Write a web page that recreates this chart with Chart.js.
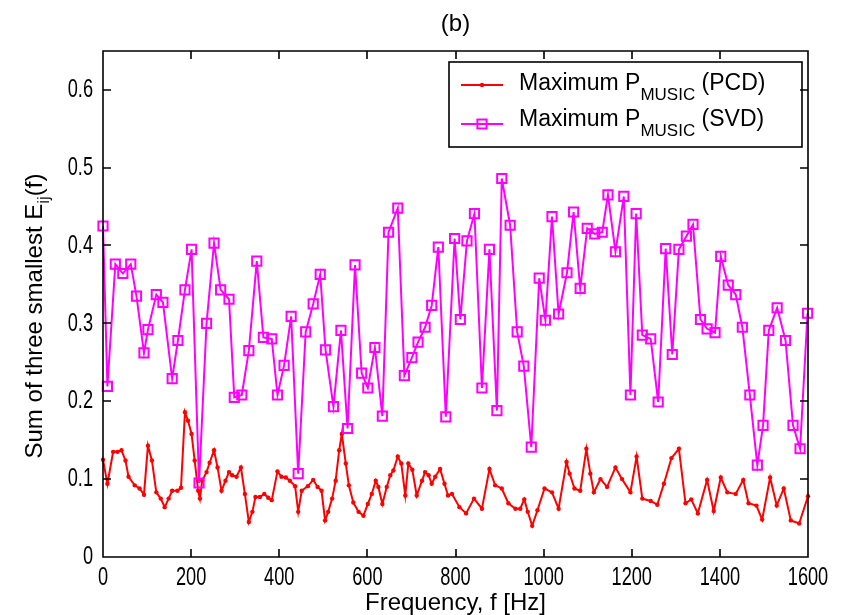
<!DOCTYPE html>
<html>
<head>
<meta charset="utf-8">
<script src="https://cdn.jsdelivr.net/npm/chart.js@4.4.1/dist/chart.umd.min.js"></script>
<style>
  html, body { margin: 0; padding: 0; background: #fff; }
  #chart { display: block; }
</style>
</head>
<body>
<canvas id="chart" width="844" height="615"></canvas>
<script>
// PCD curve (red, dot markers)
const pcdFreq = [0, 10, 23, 33, 42, 51, 58, 72, 83, 93, 102, 111, 121, 131, 140, 149, 157, 169, 177, 186,
  193, 201, 208, 216, 220, 225, 235, 242, 252, 260, 269, 278, 286, 293, 303, 313, 322, 331, 339, 346,
  356, 366, 375, 383, 396, 405, 415, 424, 436, 443, 451, 465, 477, 487, 496, 504, 511, 520, 528, 536,
  542, 551, 558, 568, 580, 591, 601, 610, 619, 625, 634, 644, 652, 659, 669, 677, 686, 693, 702, 712,
  724, 731, 739, 746, 754, 765, 775, 783, 792, 809, 824, 842, 860, 877, 890, 905, 920, 936, 947, 956,
  964, 974, 986, 1002, 1019, 1034, 1052, 1059, 1070, 1083, 1097, 1106, 1114, 1129, 1144, 1163, 1178, 1197, 1211, 1224,
  1243, 1258, 1273, 1290, 1307, 1322, 1335, 1350, 1371, 1386, 1402, 1417, 1436, 1453, 1465, 1483, 1496, 1514, 1529, 1545,
  1561, 1580, 1600];
const pcdValues = [0.125, 0.094, 0.135, 0.135, 0.137, 0.124, 0.103, 0.092, 0.088, 0.080, 0.143, 0.124, 0.083, 0.075, 0.064, 0.075, 0.085, 0.085, 0.089, 0.186,
  0.175, 0.158, 0.124, 0.085, 0.075, 0.098, 0.109, 0.121, 0.137, 0.115, 0.085, 0.098, 0.109, 0.105, 0.103, 0.115, 0.081, 0.045, 0.058, 0.077,
  0.077, 0.081, 0.076, 0.073, 0.110, 0.103, 0.102, 0.098, 0.091, 0.058, 0.085, 0.091, 0.099, 0.090, 0.085, 0.047, 0.058, 0.075, 0.098, 0.137,
  0.158, 0.120, 0.092, 0.070, 0.058, 0.053, 0.068, 0.081, 0.098, 0.090, 0.068, 0.090, 0.105, 0.111, 0.129, 0.120, 0.079, 0.120, 0.112, 0.079,
  0.098, 0.109, 0.105, 0.094, 0.103, 0.113, 0.094, 0.079, 0.081, 0.064, 0.056, 0.075, 0.062, 0.113, 0.092, 0.088, 0.069, 0.062, 0.062, 0.074,
  0.058, 0.040, 0.060, 0.088, 0.083, 0.062, 0.122, 0.107, 0.088, 0.085, 0.139, 0.107, 0.083, 0.100, 0.090, 0.115, 0.100, 0.083, 0.129, 0.075,
  0.072, 0.067, 0.094, 0.127, 0.139, 0.069, 0.074, 0.056, 0.099, 0.059, 0.102, 0.083, 0.081, 0.099, 0.069, 0.066, 0.048, 0.102, 0.066, 0.088,
  0.047, 0.043, 0.078];

// SVD curve (magenta, open squares)
const svdFreq = [0, 10, 28, 45, 63, 76, 93, 102, 121, 136, 157, 170, 186, 201, 218, 235, 252, 267, 286, 298,
  315, 331, 349, 364, 383, 396, 411, 427, 443, 460, 477, 493, 505, 523, 540, 555, 572, 587, 601, 617,
  634, 648, 669, 684, 701, 715, 731, 746, 761, 778, 798, 811, 826, 843, 860, 877, 894, 905, 924, 940,
  955, 972, 990, 1004, 1019, 1034, 1053, 1068, 1083, 1099, 1116, 1133, 1146, 1163, 1182, 1197, 1210, 1224, 1243, 1260,
  1277, 1292, 1307, 1324, 1339, 1356, 1371, 1389, 1402, 1419, 1436, 1451, 1468, 1485, 1498, 1511, 1530, 1549, 1566, 1582,
  1599];
const svdValues = [0.425, 0.219, 0.376, 0.364, 0.376, 0.335, 0.262, 0.292, 0.337, 0.327, 0.229, 0.278, 0.343, 0.395, 0.095, 0.300, 0.403, 0.343, 0.331, 0.205,
  0.208, 0.265, 0.380, 0.282, 0.280, 0.208, 0.246, 0.309, 0.107, 0.289, 0.325, 0.363, 0.266, 0.193, 0.291, 0.165, 0.375, 0.236, 0.217, 0.269,
  0.181, 0.417, 0.448, 0.233, 0.256, 0.276, 0.295, 0.323, 0.398, 0.180, 0.409, 0.305, 0.406, 0.441, 0.217, 0.395, 0.188, 0.486, 0.426, 0.289,
  0.245, 0.141, 0.358, 0.304, 0.437, 0.312, 0.365, 0.443, 0.345, 0.422, 0.415, 0.417, 0.465, 0.392, 0.463, 0.208, 0.441, 0.285, 0.280, 0.199,
  0.396, 0.260, 0.395, 0.412, 0.427, 0.305, 0.293, 0.288, 0.386, 0.349, 0.337, 0.295, 0.208, 0.118, 0.169, 0.291, 0.320, 0.278, 0.169, 0.139,
  0.313];

const xTickStep = 200;
const yTickStep = 0.1;

const SANS = "'Liberation Sans', Arial, Helvetica, sans-serif";
const TICK_LEN = 8;
// tick numbers are tall and narrow, so they get squeezed horizontally
const TICK_FONT = `26px ${SANS}`;
const TICK_SQUEEZE = 0.7;

function toPoints(xs, ys) {
  return xs.map((f, i) => ({ x: f, y: ys[i] }));
}

// draws a run of text pieces, each with its own font and vertical shift
function drawRuns(ctx, x, y, runs) {
  let cx = x;
  runs.forEach(r => {
    ctx.font = r.font;
    ctx.fillText(r.text, cx, y + (r.dy || 0));
    cx += ctx.measureText(r.text).width;
  });
  return cx;
}
function runsWidth(ctx, runs) {
  let w = 0;
  runs.forEach(r => { ctx.font = r.font; w += ctx.measureText(r.text).width; });
  return w;
}

function squeezedLabel(ctx, text, x, y, align) {
  ctx.save();
  ctx.translate(x, y);
  ctx.scale(TICK_SQUEEZE, 1);
  ctx.textAlign = align;
  ctx.textBaseline = 'middle';
  ctx.font = TICK_FONT;
  ctx.fillText(text, 0, 0);
  ctx.restore();
}

const boxAndText = {
  id: 'boxAndText',
  afterDraw(chart) {
    const ctx = chart.ctx;
    const x = chart.scales.x, y = chart.scales.y;
    // box edges taken from the axis ranges
    const L = Math.round(x.getPixelForValue(x.min));
    const R = Math.round(x.getPixelForValue(x.max));
    const B = Math.round(y.getPixelForValue(y.min));
    const T = Math.round(y.getPixelForValue(y.max));
    ctx.save();
    ctx.strokeStyle = '#000000';
    ctx.fillStyle = '#000000';
    ctx.lineWidth = 1.6;

    // axes box with inward ticks on all four sides
    ctx.beginPath();
    ctx.rect(L, T, R - L, B - T);
    x.ticks.forEach(t => {
      const px = Math.round(x.getPixelForValue(t.value));
      ctx.moveTo(px, B); ctx.lineTo(px, B - TICK_LEN);
      ctx.moveTo(px, T); ctx.lineTo(px, T + TICK_LEN);
    });
    y.ticks.forEach(t => {
      const py = Math.round(y.getPixelForValue(t.value));
      ctx.moveTo(L, py); ctx.lineTo(L + TICK_LEN, py);
      ctx.moveTo(R, py); ctx.lineTo(R - TICK_LEN, py);
    });
    ctx.stroke();

    // tick labels
    x.ticks.forEach(t => squeezedLabel(ctx, t.label, x.getPixelForValue(t.value), B + 21, 'center'));
    y.ticks.forEach(t => squeezedLabel(ctx, t.label, L - 10, y.getPixelForValue(t.value), 'right'));

    ctx.textBaseline = 'alphabetic';
    ctx.textAlign = 'left';

    // y axis title with subscript
    const yRuns = [
      { text: 'Sum of three smallest E', font: `24px ${SANS}` },
      { text: 'ij', font: `17px ${SANS}`, dy: 7 },
      { text: '(f)', font: `24px ${SANS}` }
    ];
    ctx.save();
    ctx.translate(42, 316);
    ctx.rotate(-Math.PI / 2);
    drawRuns(ctx, -runsWidth(ctx, yRuns) / 2, 0, yRuns);
    ctx.restore();

    // legend box
    ctx.strokeStyle = '#000000';
    ctx.lineWidth = 1.6;
    ctx.strokeRect(449, 62, 353, 85);
    const rows = [
      { ds: chart.data.datasets[0], lineY: 85, baseY: 90, tag: '(PCD)' },
      { ds: chart.data.datasets[1], lineY: 124, baseY: 126, tag: '(SVD)' }
    ];
    rows.forEach(r => {
      ctx.strokeStyle = r.ds.borderColor;
      ctx.lineWidth = r.ds.borderWidth;
      ctx.beginPath();
      ctx.moveTo(461, r.lineY);
      ctx.lineTo(503, r.lineY);
      ctx.stroke();
      ctx.fillStyle = r.ds.pointBackgroundColor;
      ctx.strokeStyle = r.ds.pointBorderColor;
      ctx.lineWidth = r.ds.pointBorderWidth;
      Chart.helpers.drawPoint(ctx, {
        pointStyle: r.ds.pointStyle, radius: r.ds.pointRadius,
        borderWidth: r.ds.pointBorderWidth, rotation: 0
      }, 482, r.lineY);
      ctx.fillStyle = '#000';
      drawRuns(ctx, 519, r.baseY, [
        { text: 'Maximum P', font: `23px ${SANS}` },
        { text: 'MUSIC', font: `17px ${SANS}`, dy: 10 },
        { text: ' ' + r.tag, font: `23px ${SANS}` }
      ]);
    });
    ctx.restore();
  }
};

new Chart(document.getElementById('chart'), {
  type: 'line',
  data: {
    datasets: [
      {
        label: 'Maximum P_MUSIC (PCD)',
        data: toPoints(pcdFreq, pcdValues),
        borderColor: '#ff0000',
        backgroundColor: '#ff0000',
        pointBackgroundColor: '#ff0000',
        pointBorderColor: '#ff0000',
        borderWidth: 2,
        pointStyle: 'circle',
        pointRadius: 2.2,
        pointBorderWidth: 0,
        tension: 0,
        clip: false,
        order: 1
      },
      {
        label: 'Maximum P_MUSIC (SVD)',
        data: toPoints(svdFreq, svdValues),
        borderColor: '#ff00ff',
        backgroundColor: '#ff00ff',
        pointBackgroundColor: 'rgba(0,0,0,0)',
        pointBorderColor: '#ff00ff',
        borderWidth: 2,
        pointStyle: 'rect',
        pointRadius: 6.5,
        pointBorderWidth: 2,
        tension: 0,
        clip: false,
        order: 0
      }
    ]
  },
  options: {
    responsive: false,
    animation: false,
    events: [],
    layout: { padding: { left: 0, right: 36, top: 0, bottom: 0 } },
    plugins: {
      legend: { display: false },
      tooltip: { enabled: false },
      title: {
        display: true,
        text: '(b)',
        fullSize: false,
        color: '#000',
        font: { family: SANS, size: 24, weight: 'normal' },
        padding: { top: 10, bottom: 12 }
      }
    },
    scales: {
      x: {
        type: 'linear',
        min: 0,
        max: 1600,
        grid: { display: false, drawTicks: false },
        border: { display: false },
        ticks: {
          display: false,
          stepSize: xTickStep,
          includeBounds: false,
          callback: v => String(v)
        },
        title: {
          display: true,
          text: 'Frequency, f [Hz]',
          color: '#000',
          font: { family: SANS, size: 24 },
          padding: { top: 0, bottom: -3 }
        },
        afterFit: s => { s.height = 58; }
      },
      y: {
        type: 'linear',
        min: 0,
        max: 0.65,
        grid: { display: false, drawTicks: false },
        border: { display: false },
        ticks: {
          display: false,
          stepSize: yTickStep,
          includeBounds: false,
          callback: v => String(Math.round(v * 10) / 10)
        },
        afterFit: s => { s.width = 103; }
      }
    }
  },
  plugins: [boxAndText]
});
</script>
</body>
</html>
